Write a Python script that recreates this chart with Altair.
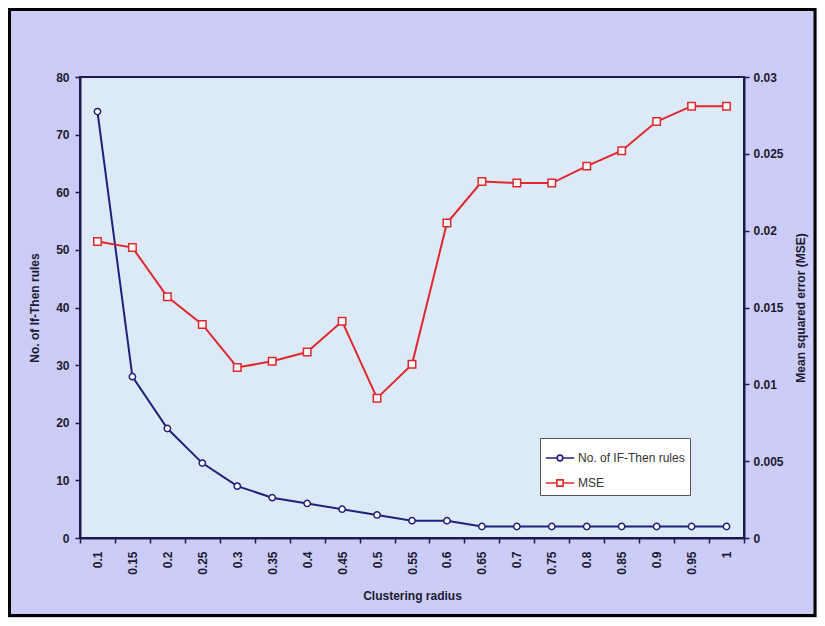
import altair as alt
import pandas as pd

radius = ["0.1", "0.15", "0.2", "0.25", "0.3", "0.35", "0.4", "0.45", "0.5", "0.55",
          "0.6", "0.65", "0.7", "0.75", "0.8", "0.85", "0.9", "0.95", "1"]
rules = [74, 28, 19, 13, 9, 7, 6, 5, 4, 3, 3, 2, 2, 2, 2, 2, 2, 2, 2]
mse = [0.0193, 0.0189, 0.0157, 0.0139, 0.0111, 0.0115, 0.0121, 0.0141, 0.0091, 0.0113,
       0.0205, 0.0232, 0.0231, 0.0231, 0.0242, 0.0252, 0.0271, 0.0281, 0.0281]
series_names = ["No. of IF-Then rules", "MSE"]
colors = ["#20207A", "#E0282C"]

df1 = pd.DataFrame({"radius": radius, "value": rules, "series": series_names[0]})
df2 = pd.DataFrame({"radius": radius, "value": mse, "series": series_names[1]})

FONT = "Liberation Sans"
AXC = "#1A1A50"
TXT = "#1A1A30"

circle_path = "M-1,0L-0.2,0M0.2,0L1,0M-0.2,0A0.2,0.2,0,1,1,0.2,0A0.2,0.2,0,1,1,-0.2,0Z"
square_path = "M-1,0L-0.22,0M0.22,0L1,0M-0.22,-0.22H0.22V0.22H-0.22Z"

x_enc = alt.X("radius:N", sort=radius,
              scale=alt.Scale(type="band", paddingInner=0, paddingOuter=0),
              axis=alt.Axis(title="Clustering radius", labelAngle=270, labelAlign="right",
                            labelBaseline="middle", tickBand="extent", tickSize=5,
                            domainColor=AXC, domainWidth=2, tickColor=AXC, tickWidth=1.5,
                            labelFont=FONT, labelFontSize=12, labelFontWeight="bold",
                            labelColor=TXT, titleFont=FONT, titleFontSize=12,
                            titleFontWeight="bold", titleColor=TXT, titlePadding=16,
                            labelPadding=8))

legend = alt.Legend(title=None, orient="none", legendX=460, legendY=361,
                    fillColor="white", strokeColor="#555555", padding=5,
                    labelFont=FONT, labelFontSize=12, labelColor="#333333",
                    symbolSize=800, symbolStrokeWidth=1.6, symbolFillColor="white",
                    symbolOpacity=1, rowPadding=3, labelOffset=3, labelLimit=200)

color_scale = alt.Scale(domain=series_names, range=colors)

y_left = alt.Y("value:Q", scale=alt.Scale(domain=[0, 80], nice=False),
               axis=alt.Axis(title="No. of If-Then rules", values=list(range(0, 81, 10)),
                             grid=False, tickSize=5, domainColor=AXC, domainWidth=2,
                             tickColor=AXC, tickWidth=1.5, labelFont=FONT, labelFontSize=12,
                             labelFontWeight="bold", labelColor=TXT, titleFont=FONT,
                             titleFontSize=12, titleFontWeight="bold", titleColor=TXT,
                             titlePadding=14, labelPadding=6))
y_right = alt.Y("value:Q", scale=alt.Scale(domain=[0, 0.03], nice=False),
                axis=alt.Axis(title="Mean squared error (MSE)", orient="right",
                              values=[0, 0.005, 0.01, 0.015, 0.02, 0.025, 0.03], format="~g",
                              grid=False, tickSize=5, domainColor=AXC, domainWidth=2,
                              tickColor=AXC, tickWidth=1.5, labelFont=FONT, labelFontSize=12,
                              labelFontWeight="bold", labelColor=TXT, titleFont=FONT,
                              titleFontSize=12, titleFontWeight="bold", titleColor=TXT,
                              titleAngle=270, titlePadding=24, labelPadding=4))

frame = alt.Chart(alt.Data(values=[{"a": 1}])).mark_rect(
    fillOpacity=0, stroke="#000000", strokeWidth=3
).encode(x=alt.value(-70.5), x2=alt.value(735), y=alt.value(-67.5), y2=alt.value(538.5))

line1 = alt.Chart(df1).mark_line(color=colors[0], strokeWidth=2).encode(x=x_enc, y=y_left)
pts1 = alt.Chart(df1).mark_point(shape="circle", filled=False, fill="white", size=40,
                                 strokeWidth=1.5, opacity=1, color=colors[0]).encode(
    x=x_enc, y=y_left)
# invisible layer that only carries the legend
leg1 = alt.Chart(df1).mark_point(filled=False, opacity=0, size=10).encode(
    x=x_enc, y=y_left,
    color=alt.Color("series:N", scale=color_scale, legend=legend),
    shape=alt.Shape("series:N", scale=alt.Scale(domain=series_names,
                                                range=[circle_path, square_path]),
                    legend=legend))

line2 = alt.Chart(df2).mark_line(color=colors[1], strokeWidth=2).encode(x=x_enc, y=y_right)
pts2 = alt.Chart(df2).mark_point(shape="square", filled=False, fill="white", size=56,
                                 strokeWidth=1.5, opacity=1, color=colors[1]).encode(
    x=x_enc, y=y_right)
leg2 = alt.Chart(df2).mark_point(filled=False, opacity=0, size=10).encode(
    x=x_enc, y=y_right,
    color=alt.Color("series:N", scale=color_scale, legend=legend),
    shape=alt.Shape("series:N", scale=alt.Scale(domain=series_names,
                                                range=[circle_path, square_path]),
                    legend=legend))

left = alt.layer(frame, line1, pts1, leg1)
right = alt.layer(line2, pts2, leg2)

chart = alt.layer(left, right).resolve_scale(y="independent").properties(
    width=664, height=461, autosize="none",
    padding={"left": 72, "top": 69, "right": 73, "bottom": 80}
).configure(background="#CCCCF8").configure_view(
    fill="#DCEAF8", stroke="#1A1A50", strokeWidth=2
)

chart.save("out.html", embed_options={"renderer": "svg", "actions": False})
